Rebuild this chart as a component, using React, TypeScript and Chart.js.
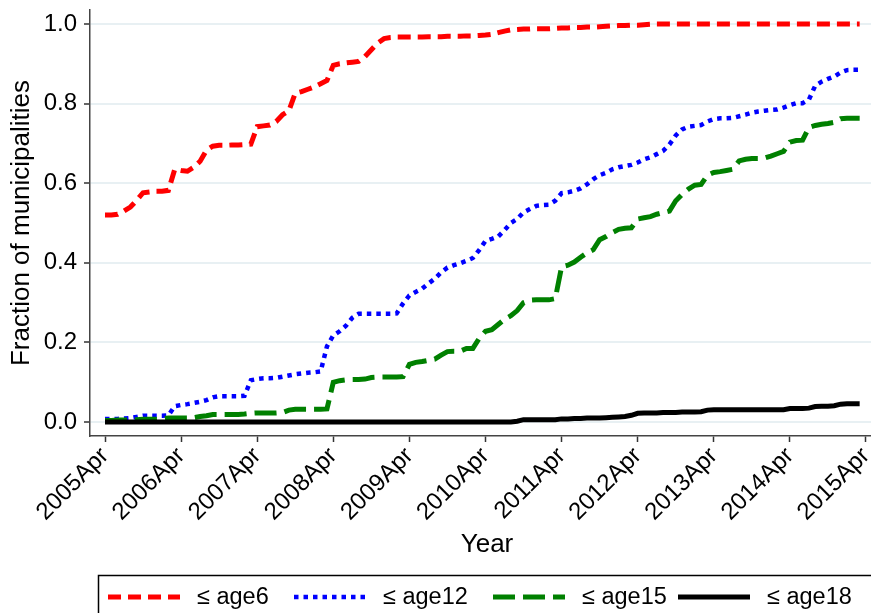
import React, { useEffect, useRef } from "react";
import { Chart, registerables } from "chart.js";

Chart.register(...registerables);

// ---- Data (monthly, 2005Apr = month 0 ... 2015Mar = month 119) ----
const xTickLabels = [
  "2005Apr", "2006Apr", "2007Apr", "2008Apr", "2009Apr", "2010Apr",
  "2011Apr", "2012Apr", "2013Apr", "2014Apr", "2015Apr",
];
const yTickValues = [0, 0.2, 0.4, 0.6, 0.8, 1.0];

const seriesLabels = ["≤ age6", "≤ age12", "≤ age15", "≤ age18"];

const age6 = [
  0.52, 0.52, 0.522, 0.53, 0.54, 0.557, 0.576, 0.578, 0.58, 0.58,
  0.582, 0.635, 0.632, 0.63, 0.64, 0.655, 0.683, 0.693, 0.695, 0.695,
  0.696, 0.696, 0.697, 0.698, 0.742, 0.744, 0.746, 0.755, 0.772, 0.782,
  0.826, 0.83, 0.836, 0.842, 0.85, 0.858, 0.896, 0.9, 0.902, 0.904,
  0.906, 0.918, 0.935, 0.952, 0.963, 0.966, 0.967, 0.967, 0.967, 0.967,
  0.967, 0.968, 0.968, 0.968, 0.969, 0.969, 0.969, 0.97, 0.97, 0.971,
  0.972, 0.974, 0.978, 0.982, 0.985, 0.986, 0.987, 0.987, 0.988, 0.988,
  0.988, 0.989, 0.99, 0.99, 0.991, 0.991, 0.992, 0.992, 0.993, 0.994,
  0.995, 0.996, 0.996, 0.997, 0.997, 0.998, 0.999, 1.0, 1.0, 1.0,
  1.0, 1.0, 1.0, 1.0, 1.0, 1.0, 1.0, 1.0, 1.0, 1.0,
  1.0, 1.0, 1.0, 1.0, 1.0, 1.0, 1.0, 1.0, 1.0, 1.0,
  1.0, 1.0, 1.0, 1.0, 1.0, 1.0, 1.0, 1.0, 1.0, 1.0,
];

const age12 = [
  0.008, 0.008, 0.008, 0.009, 0.01, 0.013, 0.016, 0.016, 0.016, 0.016,
  0.017, 0.04, 0.043, 0.045, 0.048, 0.051, 0.055, 0.062, 0.065, 0.065,
  0.065, 0.065, 0.066, 0.105, 0.108, 0.11, 0.11, 0.111, 0.114, 0.117,
  0.12, 0.122, 0.124, 0.125, 0.127, 0.19, 0.218, 0.228, 0.242, 0.262,
  0.272, 0.272, 0.272, 0.272, 0.272, 0.272, 0.273, 0.298, 0.318, 0.327,
  0.335, 0.348, 0.36, 0.376, 0.388, 0.394, 0.399, 0.405, 0.412, 0.432,
  0.455, 0.46, 0.466, 0.482, 0.5, 0.51, 0.527, 0.535, 0.543, 0.545,
  0.546, 0.556, 0.575, 0.577, 0.581, 0.587, 0.597, 0.61, 0.62, 0.626,
  0.635, 0.64, 0.643, 0.646, 0.652, 0.66, 0.665, 0.673, 0.681, 0.697,
  0.72, 0.735, 0.742, 0.744, 0.746, 0.755, 0.761, 0.763, 0.763, 0.764,
  0.768, 0.772, 0.777, 0.78, 0.782, 0.784, 0.785, 0.79, 0.796, 0.801,
  0.801, 0.81, 0.845, 0.855, 0.862, 0.868, 0.878, 0.884, 0.885, 0.885,
];

const age15 = [
  0.004, 0.004, 0.005, 0.005, 0.005, 0.006, 0.007, 0.007, 0.007, 0.008,
  0.01, 0.01, 0.01, 0.01, 0.011, 0.014, 0.016, 0.019, 0.019, 0.019,
  0.019, 0.019, 0.02, 0.022, 0.023, 0.023, 0.023, 0.023, 0.024, 0.03,
  0.032, 0.032, 0.032, 0.032, 0.032, 0.033, 0.1, 0.104, 0.106, 0.107,
  0.107, 0.108, 0.112, 0.113, 0.113, 0.113, 0.113, 0.114, 0.145, 0.15,
  0.152, 0.155, 0.158, 0.168, 0.177, 0.178, 0.178, 0.185, 0.185, 0.21,
  0.228, 0.232, 0.245, 0.258, 0.267, 0.28, 0.3, 0.306, 0.307, 0.307,
  0.307, 0.31, 0.39, 0.394, 0.402, 0.414, 0.425, 0.433, 0.458, 0.466,
  0.476, 0.484, 0.487, 0.488, 0.51, 0.513, 0.516, 0.522, 0.526, 0.53,
  0.556, 0.572, 0.585, 0.595, 0.597, 0.62, 0.627, 0.629, 0.632, 0.635,
  0.656, 0.66, 0.662, 0.662, 0.663, 0.668, 0.674, 0.68, 0.703, 0.707,
  0.708, 0.74, 0.745, 0.748, 0.75, 0.753, 0.762, 0.763, 0.763, 0.763,
];

const age18 = [
  0, 0, 0, 0, 0, 0, 0, 0, 0, 0,
  0, 0, 0, 0, 0, 0, 0, 0, 0, 0,
  0, 0, 0, 0, 0, 0, 0, 0, 0, 0,
  0, 0, 0, 0, 0, 0, 0, 0, 0, 0,
  0, 0, 0, 0, 0, 0, 0, 0, 0, 0,
  0, 0, 0, 0, 0, 0, 0, 0, 0, 0,
  0, 0, 0, 0, 0, 0.002, 0.006, 0.006, 0.006, 0.006,
  0.006, 0.006, 0.008, 0.008, 0.009, 0.009, 0.01, 0.01, 0.01, 0.011,
  0.012, 0.013, 0.014, 0.017, 0.022, 0.023, 0.023, 0.023, 0.024, 0.024,
  0.024, 0.025, 0.025, 0.025, 0.026, 0.03, 0.031, 0.031, 0.031, 0.031,
  0.031, 0.031, 0.031, 0.031, 0.031, 0.031, 0.031, 0.031, 0.034, 0.034,
  0.034, 0.035, 0.039, 0.04, 0.04, 0.041, 0.045, 0.046, 0.046, 0.046,
];

// ---- Styles ----
const FONT = "'Liberation Sans', Arial, Helvetica, sans-serif";
const CANVAS_W = 884;
const CANVAS_H = 613;
const PLOT_LEFT = 90;
const PX_PER_MONTH = 76.1 / 12;
const FIRST_TICK_OFFSET = 15; // px from axis to 2005Apr tick
const X_MIN = -FIRST_TICK_OFFSET / PX_PER_MONTH;
const X_MAX = X_MIN + (CANVAS_W - PLOT_LEFT) / PX_PER_MONTH;

const seriesStyles = [
  { color: "#ff0000", dash: [13, 7], width: 5 },
  { color: "#0000ff", dash: [4.5, 5], width: 4.5 },
  { color: "#008000", dash: [22, 8], width: 5 },
  { color: "#000000", dash: [], width: 5 },
];
const legendX = [108, 294, 493, 678];

const stataLegend = {
  id: "stataLegend",
  afterDraw(chart: any) {
    const ctx = chart.ctx as CanvasRenderingContext2D;
    ctx.save();
    ctx.setLineDash([]);
    ctx.strokeStyle = "#000";
    ctx.lineWidth = 1.5;
    ctx.strokeRect(98.5, 575.5, 778, 60);
    chart.data.datasets.forEach((ds: any, i: number) => {
      const x0 = legendX[i];
      ctx.beginPath();
      ctx.setLineDash(ds.borderDash || []);
      ctx.lineCap = "butt";
      ctx.lineWidth = ds.borderWidth;
      ctx.strokeStyle = ds.borderColor;
      ctx.moveTo(x0, 597);
      ctx.lineTo(x0 + 72, 597);
      ctx.stroke();
      ctx.setLineDash([]);
      ctx.fillStyle = "#000";
      ctx.font = `23.5px ${FONT}`;
      ctx.textBaseline = "alphabetic";
      ctx.textAlign = "left";
      ctx.fillText(ds.label, x0 + 89, 604);
    });
    ctx.restore();
  },
};

export default function App() {
  const canvasRef = useRef<HTMLCanvasElement | null>(null);

  useEffect(() => {
    if (!canvasRef.current) return;
    const allSeries = [age6, age12, age15, age18];
    const chart = new Chart(canvasRef.current, {
      type: "line",
      data: {
        datasets: allSeries.map((vals, i) => ({
          label: seriesLabels[i],
          data: vals.map((v, m) => ({ x: m, y: v })),
          borderColor: seriesStyles[i].color,
          backgroundColor: seriesStyles[i].color,
          borderWidth: seriesStyles[i].width,
          borderDash: seriesStyles[i].dash,
          borderCapStyle: "butt",
          borderJoinStyle: "miter",
          pointRadius: 0,
          tension: 0,
          fill: false,
          order: 3 - i,
        })),
      },
      plugins: [stataLegend],
      options: {
        animation: false,
        responsive: false,
        devicePixelRatio: 1,
        layout: { padding: { top: 10, bottom: 40, left: 0, right: 0 } },
        plugins: {
          legend: { display: false },
          tooltip: { enabled: false },
        },
        scales: {
          x: {
            type: "linear",
            min: X_MIN,
            max: X_MAX,
            afterBuildTicks: (scale: any) => {
              scale.ticks = xTickLabels.map((_, i) => ({ value: i * 12 }));
            },
            afterFit: (scale: any) => {
              scale.height = 137;
              scale.paddingLeft = 0;
              scale.paddingRight = 0;
            },
            ticks: {
              autoSkip: false,
              minRotation: 45,
              maxRotation: 45,
              padding: 0,
              color: "#000",
              font: { family: FONT, size: 24 },
              callback: (_v: any, idx: number) => xTickLabels[idx],
            },
            grid: {
              drawOnChartArea: false,
              drawTicks: true,
              tickLength: 6,
              tickColor: "#333",
              tickWidth: 1.5,
            },
            border: { display: true, color: "#444", width: 1.5 },
            title: {
              display: true,
              text: "Year",
              color: "#000",
              font: { family: FONT, size: 26, lineHeight: 1 },
              padding: { top: 0, bottom: 15 },
            },
          },
          y: {
            type: "linear",
            min: -0.035,
            max: 1.035,
            afterBuildTicks: (scale: any) => {
              scale.ticks = yTickValues.map((v) => ({ value: v }));
            },
            afterFit: (scale: any) => {
              scale.width = PLOT_LEFT;
              scale.paddingTop = 0;
              scale.paddingBottom = 0;
            },
            ticks: {
              padding: 7,
              color: "#000",
              font: { family: FONT, size: 24 },
              callback: (v: any) => Number(v).toFixed(1),
            },
            grid: {
              color: "#e8f0f3",
              lineWidth: 2,
              drawTicks: true,
              tickLength: 6,
              tickColor: "#333",
              tickWidth: 1.5,
            },
            border: { display: true, color: "#444", width: 1.5 },
            title: {
              display: true,
              text: "Fraction of municipalities",
              color: "#000",
              font: { family: FONT, size: 26, lineHeight: 1 },
              padding: { top: 9, bottom: 0 },
            },
          },
        },
      },
    } as any);
    return () => chart.destroy();
  }, []);

  return (
    <div
      style={{
        position: "absolute",
        left: 0,
        top: 0,
        width: 871,
        height: 613,
        overflow: "hidden",
        background: "#fff",
      }}
    >
      <canvas
        ref={canvasRef}
        width={CANVAS_W}
        height={CANVAS_H}
        style={{ display: "block" }}
      />
    </div>
  );
}
